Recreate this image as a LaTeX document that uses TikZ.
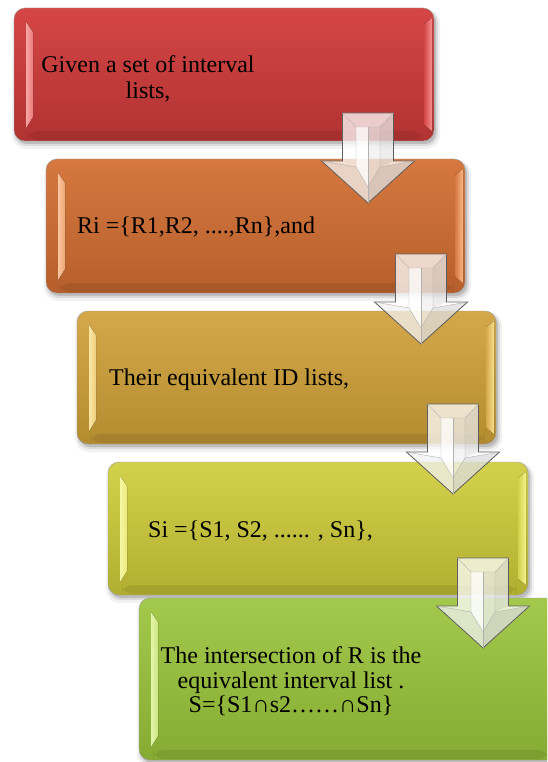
\documentclass[tikz,border=0pt]{standalone}
\usepackage{fontspec}
\setmainfont{Liberation Serif}
\usetikzlibrary{calc}
\definecolor{r1t}{HTML}{D54646}\definecolor{r1b}{HTML}{B23232}\definecolor{r1l}{HTML}{F59090}
\definecolor{r2t}{HTML}{D6783F}\definecolor{r2b}{HTML}{B65F2C}\definecolor{r2l}{HTML}{F8B888}
\definecolor{r3t}{HTML}{D5A84A}\definecolor{r3b}{HTML}{B38C30}\definecolor{r3l}{HTML}{F8E090}
\definecolor{r4t}{HTML}{D3D14C}\definecolor{r4b}{HTML}{B2AF30}\definecolor{r4l}{HTML}{F4F48E}
\definecolor{r5t}{HTML}{A3C94C}\definecolor{r5b}{HTML}{86AB33}\definecolor{r5l}{HTML}{DCF296}
\tikzset{
  x=1pt,y=-1pt,
  boxbody/.style={rounded corners=11pt, draw=black!40, line width=0.4pt, inner sep=0pt, outer sep=0pt},
  lbl/.style={inner sep=0pt, anchor=base west, font=\fontsize{24}{26}\selectfont, text=black},
  lblc/.style={inner sep=0pt, anchor=base, font=\fontsize{24}{26}\selectfont, text=black},
  arrowbody/.style={fill=white, fill opacity=0.75, draw=black!62, line width=0.8pt, line join=miter},
  facet/.style={draw=black!30, line width=0.4pt},
}
% name, x0, y0, x1, y1, prefix of colours
\newcommand\glossbox[6]{%
  \fill[black, opacity=0.05, rounded corners=14pt] (#2-2,#3+1) rectangle (#4+6,#5+8);
  \fill[black, opacity=0.09, rounded corners=12pt] (#2,#3+2) rectangle (#4+4,#5+5);
  \fill[black, opacity=0.14, rounded corners=11pt] (#2+2,#3+3) rectangle (#4+2,#5+3);
  \node[boxbody, top color=#6t, bottom color=#6b, minimum width={(#4-#2)*1pt}, minimum height={(#5-#3)*1pt}] (#1) at ({(#2+#4)/2},{(#3+#5)/2}) {};
  \fill[left color=#6l!80!white, right color=#6l!70!#6t] (#2+12,#3+14) -- (#2+19,#3+24) -- (#2+19,#5-24) -- (#2+12,#5-13) -- cycle;
  \fill[left color=#6t, right color=#6l] (#4-10,#3+16) -- (#4-2,#3+10) -- (#4-2,#5-10) -- (#4-10,#5-16) -- cycle;
  \fill[black, opacity=0.08, rounded corners=10pt] (#2+14,#5-10) -- (#4-12,#5-10) -- (#4-12,#5-1) -- (#2+14,#5-1) -- cycle;
}
% centre x, top y
\newcommand\blockarrow[2]{%
  \filldraw[arrowbody] (#1-25.5,#2) -- (#1+25.5,#2) -- (#1+25.5,#2+48) -- (#1+46.5,#2+48) -- (#1,#2+90) -- (#1-46.5,#2+48) -- (#1-25.5,#2+48) -- cycle;
  \fill[black, opacity=0.07] (#1+12,#2+14) -- (#1+25.5,#2) -- (#1+25.5,#2+48) -- (#1+12,#2+54) -- cycle;
  \fill[black, opacity=0.10] (#1+12,#2+54) -- (#1+46.5,#2+48) -- (#1,#2+90) -- (#1,#2+74) -- cycle;
  \fill[black, opacity=0.04] (#1-46.5,#2+48) -- (#1-12,#2+54) -- (#1,#2+74) -- (#1,#2+90) -- cycle;
  \fill[black, opacity=0.04] (#1,#2+14) -- (#1+12,#2+14) -- (#1+12,#2+54) -- (#1,#2+74) -- cycle;
  \fill[white, opacity=0.7] (#1-12,#2+14) -- (#1,#2+14) -- (#1,#2+74) -- (#1-12,#2+54) -- cycle;
  \draw[facet] (#1-25.5,#2) -- (#1-12,#2+14) -- (#1+12,#2+14) -- (#1+25.5,#2);
  \draw[facet] (#1-12,#2+14) -- (#1-12,#2+54) -- (#1,#2+74) -- (#1+12,#2+54) -- (#1+12,#2+14);
  \draw[facet] (#1-46.5,#2+48) -- (#1-12,#2+54);
  \draw[facet] (#1+46.5,#2+48) -- (#1+12,#2+54);
  \draw[facet] (#1,#2+74) -- (#1,#2+90);
  \draw[facet] (#1,#2+14) -- (#1,#2+74);
}
\begin{document}
\begin{tikzpicture}
  \useasboundingbox (0,0) rectangle (547,762);
  \clip (0,0) rectangle (547,762);
  \glossbox{b1}{14}{8}{434}{141}{r1}
  \glossbox{b2}{46}{159}{465}{293}{r2}
  \glossbox{b3}{77}{311}{496}{444}{r3}
  \glossbox{b4}{108}{462}{528}{595}{r4}
  \glossbox{b5}{139}{598}{560}{760}{r5}
  \node[lblc] (t1a) at (148,73) {Given a set of interval};
  \node[lblc] (t1b) at (148,99) {lists,};
  \node[lbl] (t2) at (77,233) {Ri =\{R1,R2, ....,Rn\},and};
  \node[lbl] (t3) at (109,385) {Their equivalent ID lists,};
  \node[lbl] (t4) at (148,537) {Si =\{S1, S2, ...... , Sn\},};
  \node[lblc] (t5a) at (291,663) {The intersection of R is the};
  \node[lblc] (t5b) at (291,688) {equivalent interval list .};
  \node[lblc] (t5c) at (291,712) {S=\{S1∩s2……∩Sn\}};
  \blockarrow{368}{113}
  \blockarrow{421}{254}
  \blockarrow{453}{404}
  \blockarrow{483}{558}
\end{tikzpicture}
\end{document}
